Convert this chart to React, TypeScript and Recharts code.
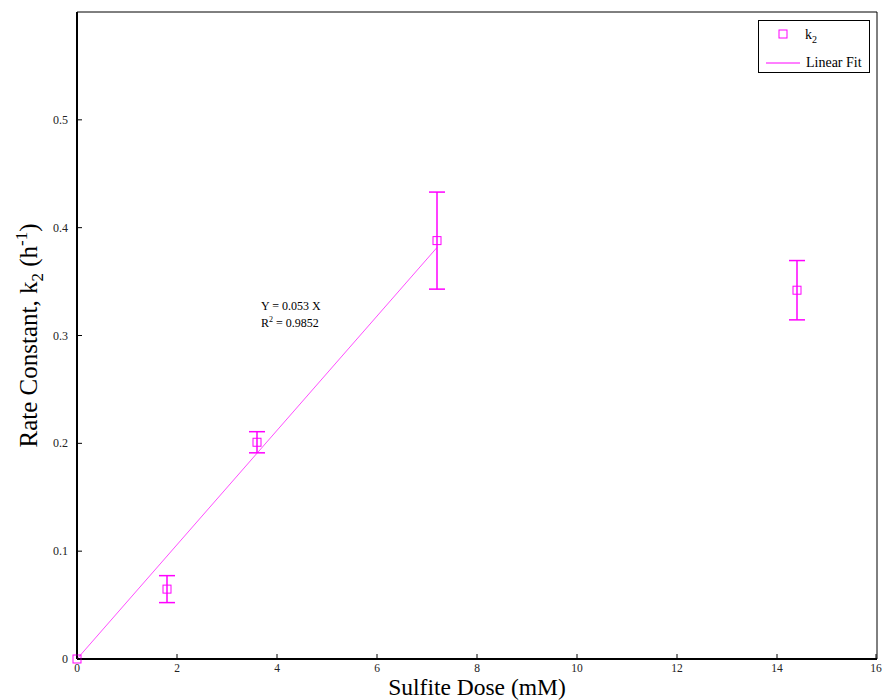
import {
  ComposedChart,
  Scatter,
  XAxis,
  YAxis,
  ErrorBar,
  Legend,
  Label,
  ReferenceDot,
} from "recharts";

const doses = [0, 1.8, 3.6, 7.2, 14.4];
const k2 = [0, 0.0648, 0.201, 0.388, 0.342];
const k2Err = [0, 0.0125, 0.0098, 0.045, 0.0275];

const fitX = [0, 7.2];
const fitY = [0, 0.3816];

const xTicks = [0, 2, 4, 6, 8, 10, 12, 14, 16];
const yTicks = [0, 0.1, 0.2, 0.3, 0.4, 0.5];

const MAGENTA = "#ff00ff";
const FONT = "Liberation Serif";

const points = doses.map((d, i) => ({ x: d, y: k2[i], err: k2Err[i] }));
const fitLine = fitX.map((x, i) => ({ x, y: fitY[i] }));

const BottomTick = (props: any) => {
  const { x, y, payload } = props;
  return (
    <g>
      <line x1={x} y1={y} x2={x} y2={y - 5} stroke="#000" />
      <text x={x} y={y + 13} textAnchor="middle" fontSize={11.5} fontFamily={FONT} fill="#222">
        {payload.value}
      </text>
    </g>
  );
};

const TopTick = (props: any) => {
  const { x, y } = props;
  return <line x1={x} y1={y} x2={x} y2={y + 5} stroke="#000" />;
};

const LeftTick = (props: any) => {
  const { x, y, payload } = props;
  return (
    <g>
      <line x1={x} y1={y} x2={x + 5} y2={y} stroke="#000" />
      <text x={x - 9} y={y + 4} textAnchor="end" fontSize={12} fontFamily={FONT} fill="#222">
        {payload.value}
      </text>
    </g>
  );
};

const RightTick = (props: any) => {
  const { x, y } = props;
  return <line x1={x} y1={y} x2={x - 5} y2={y} stroke="#000" />;
};

const Square = (props: any) => {
  const { cx, cy } = props;
  return <rect x={cx - 4} y={cy - 4} width={8} height={8} fill="none" stroke={MAGENTA} strokeWidth={1} />;
};

const NoDot = () => <g />;

const XTitle = (props: any) => {
  const { viewBox } = props;
  return (
    <text x={viewBox.x + viewBox.width / 2} y={695} textAnchor="middle" fontSize={23.5} fontFamily={FONT} fill="#000">
      Sulfite Dose (mM)
    </text>
  );
};

const YTitle = (props: any) => {
  const { viewBox } = props;
  const cy = viewBox.y + viewBox.height / 2;
  return (
    <text
      x={37}
      y={cy}
      transform={`rotate(-90, 37, ${cy})`}
      textAnchor="middle"
      fontSize={25}
      fontFamily={FONT}
      fill="#000"
    >
      Rate Constant, k
      <tspan fontSize={17} dy={6}>2</tspan>
      <tspan dy={-6}> (h</tspan>
      <tspan fontSize={17} dy={-10}>-1</tspan>
      <tspan dy={10}>)</tspan>
    </text>
  );
};

const FitText = (props: any) => {
  const { viewBox } = props;
  const x = viewBox.x;
  const y = viewBox.y;
  return (
    <text x={x} y={y} fontSize={12} fontFamily={FONT} fill="#000">
      <tspan x={x} y={y}>Y = 0.053 X</tspan>
      <tspan x={x} y={y + 17}>R</tspan>
      <tspan fontSize={8} dy={-5}>2</tspan>
      <tspan fontSize={12} dy={5}> = 0.9852</tspan>
    </text>
  );
};

const LegendBox = () => (
  <svg width={112} height={53}>
    <rect x={0.5} y={0.5} width={111} height={52} fill="#fff" stroke="#000" />
    <rect x={21} y={10} width={8} height={8} fill="none" stroke={MAGENTA} />
    <text x={47} y={19} fontSize={14} fontFamily={FONT} fill="#000">
      k<tspan fontSize={10} dy={4}>2</tspan>
    </text>
    <line x1={8} y1={43} x2={42} y2={43} stroke={MAGENTA} strokeWidth={1} />
    <text x={48} y={47} fontSize={14} fontFamily={FONT} fill="#000">
      Linear Fit
    </text>
  </svg>
);

export default function App() {
  return (
    <div style={{ position: "absolute", left: 0, top: 0, width: 884, height: 700, background: "#fff" }}>
      <ComposedChart
        width={884}
        height={700}
        margin={{ top: 0, right: 0, bottom: 0, left: 0 }}
      >
        <XAxis
          dataKey="x"
          type="number"
          domain={[0, 16]}
          ticks={xTicks}
          height={41}
          tickSize={0}
          tickMargin={0}
          tickLine={false}
          tick={<BottomTick />}
          axisLine={{ stroke: "#000", strokeWidth: 2 }}
        >
          <Label content={<XTitle />} />
        </XAxis>
        <XAxis
          xAxisId="top"
          orientation="top"
          type="number"
          domain={[0, 16]}
          ticks={xTicks}
          height={12}
          tickSize={0}
          tickMargin={0}
          tickLine={false}
          tick={<TopTick />}
          axisLine={{ stroke: "#000", strokeWidth: 1 }}
        />
        <YAxis
          dataKey="y"
          type="number"
          domain={[0, 0.6]}
          ticks={yTicks}
          width={77}
          tickSize={0}
          tickMargin={0}
          tickLine={false}
          tick={<LeftTick />}
          axisLine={{ stroke: "#000", strokeWidth: 2 }}
        >
          <Label content={<YTitle />} />
        </YAxis>
        <YAxis
          yAxisId="right"
          orientation="right"
          type="number"
          domain={[0, 0.6]}
          ticks={yTicks}
          width={7}
          tickSize={0}
          tickMargin={0}
          tickLine={false}
          tick={<RightTick />}
          axisLine={{ stroke: "#000", strokeWidth: 1 }}
        />
        <Scatter
          name="Linear Fit"
          data={fitLine}
          line={{ stroke: MAGENTA, strokeWidth: 1, strokeOpacity: 0.7 }}
          shape={<NoDot />}
          isAnimationActive={false}
        />
        <Scatter name="k2" data={points} shape={<Square />} isAnimationActive={false}>
          <ErrorBar dataKey="err" direction="y" width={8} stroke={MAGENTA} strokeWidth={1.5} />
        </Scatter>
        <ReferenceDot x={3.68} y={0.324} r={0} fill="none" stroke="none" label={<FitText />} />
        <Legend
          layout="horizontal"
          verticalAlign="middle"
          align="center"
          content={<LegendBox />}
          wrapperStyle={{ position: "absolute", top: 20, left: 758, width: 112, height: 53 }}
        />
      </ComposedChart>
    </div>
  );
}
